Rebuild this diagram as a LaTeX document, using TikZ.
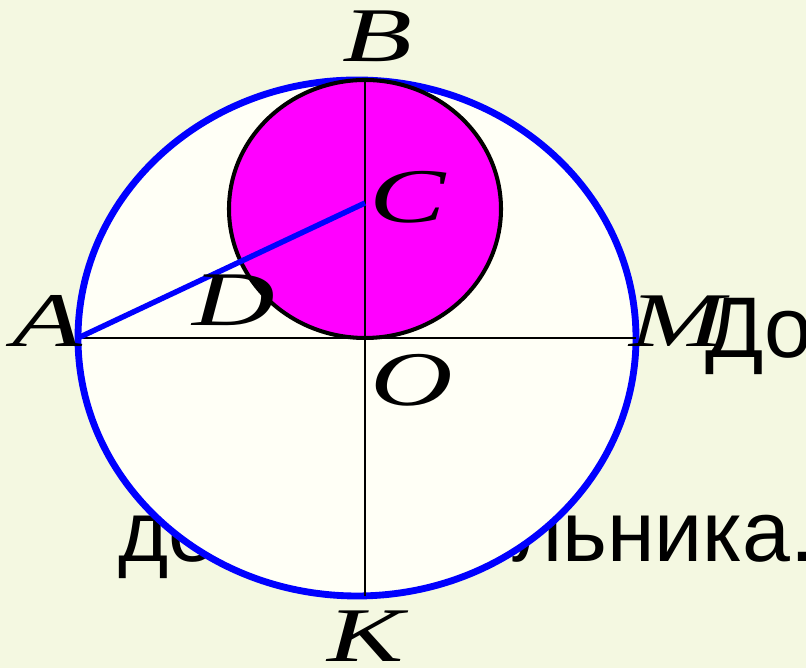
\documentclass[tikz,border=0pt]{standalone}
\usepackage{fontspec}
\setmainfont{Liberation Serif}
\newfontfamily\slidefont{Liberation Sans}
\definecolor{slidebg}{HTML}{F4F8E1}
\definecolor{discfill}{HTML}{FFFFF6}
\definecolor{rimblue}{HTML}{0000FF}
\definecolor{innermag}{HTML}{FF00FF}
\usetikzlibrary{calc, positioning}

\begin{document}
\begin{tikzpicture}[
  x=0.02cm, y=0.02cm,
  pt/.style={font=\fontsize{44}{44}\selectfont\itshape, inner sep=0pt, xscale=1.48},
  slidetext/.style={font=\fontsize{49}{55}\selectfont\slidefont, inner sep=0pt, anchor=base west},
  axis/.style={draw=black, line width=1.2pt},
]
\useasboundingbox (0,0) rectangle (806,668);
\clip (0,0) rectangle (806,668);
\fill[slidebg] (0,0) rectangle (806,668);

\node[slidetext] (t1) at (705,310) {Доказательство};
\node[slidetext] (t2) at (118,106) {десятиугольника.};

\coordinate (O) at (365,330);
\coordinate (A) at (78,330);
\coordinate (M) at (636,330);
\coordinate (B) at (365,588);
\coordinate (K) at (365,72);
\coordinate (C) at (365,465);
\coordinate (D) at (243,406);

\filldraw[fill=discfill, draw=rimblue, line width=3.9pt] (357,330) ellipse [x radius=279, y radius=258];
\filldraw[fill=innermag, draw=black, line width=2.3pt] (365,459) ellipse [x radius=136, y radius=129];

\draw[axis] (B) -- (K);
\draw[axis] (A) -- (M);
\draw[draw=rimblue, line width=3.1pt] (A) -- (C);

\node[pt] (lB) at (377,632) {B};
\node[pt] (lC) at (408,471) {C};
\node[pt] (lA) at (47,347) {A};
\node[pt] (lD) at (234,368) {D};
\node[pt] (lM) at (677,347) {M};
\node[pt] (lO) at (412,288) {O};
\node[pt] (lK) at (366,32) {K};
\end{tikzpicture}
\end{document}
